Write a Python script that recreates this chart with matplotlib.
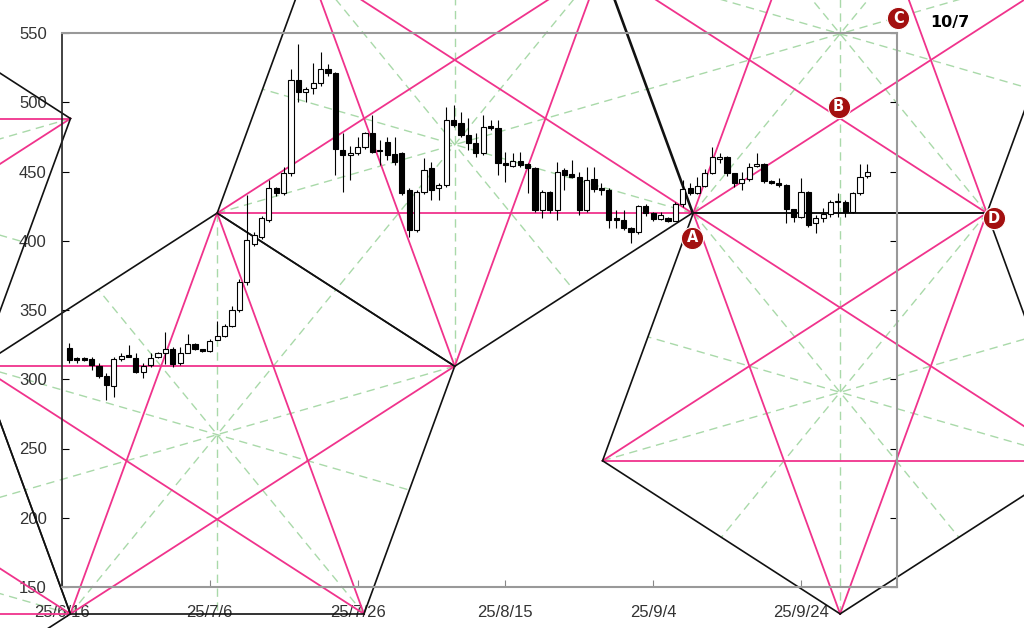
import numpy as np
import matplotlib.pyplot as plt

# daily candles, day 1 = 25/6/17 (x axis counts days from 25/6/16)
opens = [322.8, 314.5, 314.4, 314.4, 309.6, 302.3, 295.1, 314.4, 317.5, 315.6,
         305.5, 310.3, 316.3, 318.7, 321.6, 311.5, 319.2, 325.5, 321.6, 320.4,
         328.3, 331.2, 338.4, 350.0, 370.5, 398.0, 403.0, 415.0, 437.9, 434.2,
         448.7, 516.0, 507.6, 510.0, 513.7, 523.8, 520.9, 465.5, 461.9, 463.6,
         467.4, 477.5, 464.8, 471.5, 462.6, 463.1, 436.7, 407.8, 435.5, 452.3,
         438.0, 440.3, 487.2, 485.2, 476.4, 470.4, 463.2, 482.8, 481.2, 456.4,
         454.3, 457.6, 455.2, 452.8, 422.3, 435.5, 422.3, 451.1, 448.2, 445.8,
         422.3, 444.4, 437.9, 436.7, 416.3, 415.1, 409.1, 406.0, 425.2, 419.9,
         415.7, 416.2, 414.5, 426.5, 437.9, 434.8, 439.6, 448.7, 458.8, 460.7,
         448.7, 442.0, 444.4, 454.0, 455.5, 443.4, 442.0, 440.3, 422.7, 417.4,
         435.5, 412.6, 416.2, 419.3, 428.2, 428.2, 421.0, 434.3, 446.8]
highs = [326.4, 316.3, 316.0, 316.3, 311.5, 304.3, 316.3, 319.2, 324.7, 319.2,
         311.5, 318.7, 319.9, 334.4, 323.5, 323.5, 332.7, 325.9, 321.6, 328.8,
         342.3, 339.9, 352.9, 372.2, 433.0, 406.0, 418.0, 443.9, 439.0, 453.5,
         523.8, 542.0, 511.0, 528.6, 536.5, 527.7, 522.0, 477.5, 468.4, 475.1,
         478.7, 490.7, 472.7, 475.1, 475.1, 464.0, 438.0, 436.7, 459.5, 457.1,
         441.5, 496.8, 497.9, 493.0, 488.4, 477.6, 490.8, 487.2, 487.2, 464.4,
         463.2, 464.4, 456.0, 453.0, 436.7, 436.0, 457.1, 452.3, 458.3, 449.9,
         453.5, 453.5, 441.5, 438.0, 422.0, 422.0, 410.0, 426.0, 426.5, 421.0,
         421.0, 417.0, 428.2, 443.9, 442.0, 446.3, 451.6, 467.9, 463.1, 461.0,
         449.0, 449.9, 456.0, 463.1, 456.0, 444.0, 445.1, 441.0, 423.0, 445.1,
         436.0, 418.4, 423.4, 429.4, 434.3, 429.4, 435.5, 455.5, 455.5]
lows = [312.0, 311.5, 313.0, 306.7, 300.7, 285.0, 287.4, 313.4, 316.0, 304.3,
        300.7, 309.1, 315.1, 311.0, 309.1, 310.3, 318.7, 321.0, 320.0, 320.0,
        328.0, 330.7, 337.9, 348.8, 368.0, 396.0, 401.0, 413.8, 432.0, 433.0,
        447.0, 500.4, 500.4, 506.0, 512.0, 519.0, 447.5, 435.5, 443.9, 462.0,
        466.0, 463.0, 455.0, 458.0, 454.7, 433.0, 403.0, 406.6, 434.0, 429.4,
        429.4, 439.1, 482.0, 475.0, 465.6, 460.7, 462.0, 480.0, 447.5, 442.7,
        453.5, 453.0, 434.3, 421.1, 416.3, 420.0, 415.1, 436.7, 445.0, 418.7,
        421.1, 435.5, 433.1, 409.0, 409.0, 408.0, 398.3, 405.0, 418.0, 414.0,
        415.0, 413.8, 414.0, 424.6, 433.0, 434.0, 439.1, 448.0, 456.0, 447.0,
        439.1, 436.7, 443.0, 453.5, 442.0, 441.0, 439.1, 412.6, 413.8, 416.2,
        410.2, 405.4, 413.8, 417.4, 417.4, 417.4, 419.8, 433.1, 445.1]
closes = [313.9, 314.2, 314.2, 310.3, 302.3, 295.8, 314.4, 316.8, 316.3, 305.5,
          309.6, 315.6, 318.7, 321.6, 311.0, 319.2, 325.5, 321.6, 320.4, 327.9,
          331.2, 338.4, 350.0, 370.5, 400.5, 404.0, 416.2, 437.9, 434.2, 448.7,
          516.0, 507.6, 509.3, 513.7, 523.8, 520.9, 466.0, 461.9, 463.6, 467.4,
          477.5, 464.3, 464.5, 461.9, 457.1, 434.2, 407.8, 435.5, 451.1, 436.7,
          440.3, 487.2, 483.5, 476.4, 470.4, 463.2, 482.4, 481.2, 455.9, 454.8,
          457.6, 454.8, 452.3, 422.3, 435.5, 422.3, 449.9, 447.5, 445.8, 422.3,
          443.9, 437.2, 436.7, 415.1, 415.1, 409.1, 406.0, 425.2, 419.9, 415.6,
          418.4, 414.5, 426.5, 437.2, 434.3, 439.6, 448.7, 460.7, 460.7, 448.7,
          442.0, 444.4, 453.5, 455.5, 443.4, 441.5, 440.3, 422.7, 417.4, 435.5,
          411.4, 416.2, 419.3, 428.2, 428.6, 421.0, 434.3, 446.3, 449.9]
days = np.arange(1, len(opens) + 1)

tick_days = [0, 20, 40, 60, 80, 100]
tick_labels = ['25/6/16', '25/7/6', '25/7/26', '25/8/15', '25/9/4', '25/9/24']
price_ticks = [150, 200, 250, 300, 350, 400, 450, 500, 550]

# chain of pentagons: centre (day, price) and pointing (1 up, -1 down)
pent_x = [21.0, 53.15, -31.0, -31.0, 105.3, 105.3]
pent_y = [260.0, 469.4, 180.0, 438.8, 549.4, 290.6]
pent_dir = [1, -1, -1, 1, 1, -1]
rx = 33.8   # radius in days
ry = 160.0  # radius in price

mark_names = ['A', 'B', 'C', 'D']
mark_x = [85.3, 105.1, 113.2, 126.1]
mark_y = [402.0, 496.6, 560.8, 416.4]

PINK = '#f0338c'
GREEN = '#a9d9a9'
RED = '#a31010'


def pentagon(cx, cy, d):
    start = 90 if d == 1 else -90
    ang = np.radians(start + 72 * np.arange(5))
    return cx + rx * np.cos(ang), cy + ry * np.sin(ang)


fig = plt.figure(figsize=(10.24, 6.28), dpi=100)
ax = fig.add_axes([62 / 1024, 41 / 628, 835 / 1024, 554 / 628])
ax.set_xlim(0, 113)
ax.set_ylim(150, 550)

for cx, cy, d in zip(pent_x, pent_y, pent_dir):
    vx, vy = pentagon(cx, cy, d)
    for i in range(5):
        # green spokes: vertex through centre to opposite edge
        mx = (vx[(i + 2) % 5] + vx[(i + 3) % 5]) / 2
        my = (vy[(i + 2) % 5] + vy[(i + 3) % 5]) / 2
        ax.plot([vx[i], mx], [vy[i], my], color=GREEN, lw=1, ls=(0, (6, 4)),
                clip_on=False, zorder=1)
    for i in range(5):
        j = (i + 2) % 5
        ax.plot([vx[i], vx[j]], [vy[i], vy[j]], color=PINK, lw=1.3,
                clip_on=False, zorder=2)
    for i in range(5):
        j = (i + 1) % 5
        ax.plot([vx[i], vx[j]], [vy[i], vy[j]], color='#111111', lw=1.2,
                clip_on=False, zorder=2)

# candles
o = np.array(opens)
c = np.array(closes)
up = c >= o
ax.vlines(days, lows, highs, color='black', lw=0.8, zorder=3)
bottom = np.minimum(o, c)
height = np.maximum(np.abs(c - o), 0.8)
ax.bar(days, height, bottom=bottom, width=0.7,
       color=np.where(up, 'white', 'black'), edgecolor='black', lw=0.8,
       zorder=4)

for name, x, y in zip(mark_names, mark_x, mark_y):
    ax.plot(x, y, 'o', ms=16, color=RED, mec='white', mew=0.8,
            clip_on=False, zorder=6)
    ax.text(x, y, name, color='white', fontsize=10.5, fontweight='bold',
            ha='center', va='center', clip_on=False, zorder=7)
ax.text(mark_x[2] + 7.0, mark_y[2] - 3, '10/7', fontsize=11.5,
        fontweight='bold', ha='center', va='center', zorder=7)

ax.set_xticks(tick_days)
ax.set_xticklabels(tick_labels)
ax.set_yticks(price_ticks)
ax.tick_params(axis='x', direction='in', length=5, color='#888888',
               pad=13, labelsize=12, labelcolor='#333333')
ax.tick_params(axis='y', direction='in', length=5, right=True,
               pad=11, labelsize=12, labelcolor='#333333')
for lab in ax.get_xticklabels() + ax.get_yticklabels():
    lab.set_family('Liberation Sans')
for side in ['top', 'right', 'bottom']:
    ax.spines[side].set_color('#999999')
    ax.spines[side].set_linewidth(1.5)
ax.spines['left'].set_color('#222222')
ax.spines['left'].set_linewidth(1.2)
ax.set_facecolor('none')

fig.savefig('out.png', dpi=100)
